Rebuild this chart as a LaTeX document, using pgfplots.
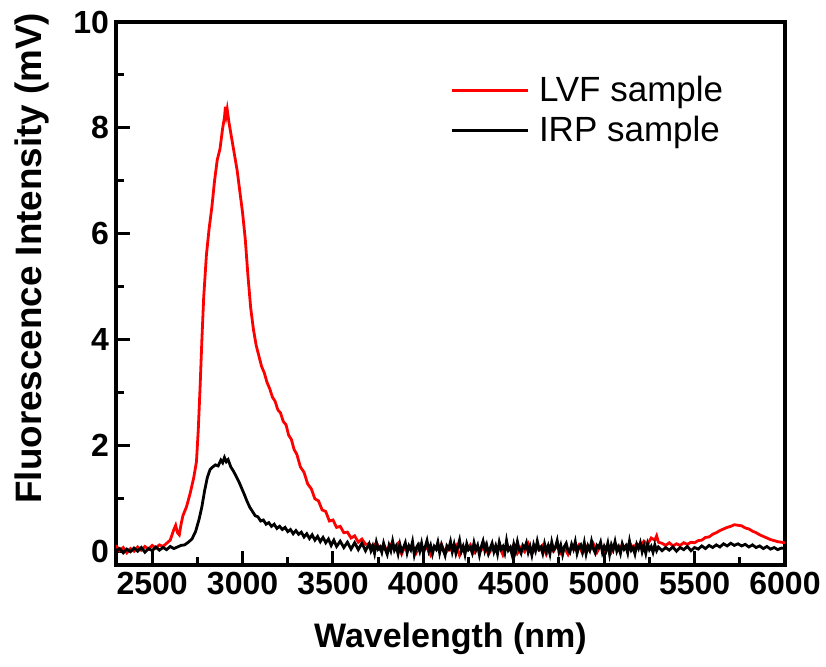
\documentclass[border=0pt]{standalone}
\usepackage{pgfplots}
\pgfplotsset{compat=1.18}
\usepackage{fontspec}
\setmainfont{Liberation Sans}
\begin{document}
\begin{tikzpicture}
\useasboundingbox (0,0) rectangle (413pt,333pt);
\begin{axis}[
  at={(58pt,50.5pt)}, anchor=south west,
  width=334.5pt, height=271.5pt, scale only axis,
  xmin=2300, xmax=6000, ymin=-0.25, ymax=10,
  xtick={2500,3000,...,6000}, minor xtick={2750,3250,...,5750},
  ytick={0,2,...,10}, minor ytick={1,3,...,9},
  tick align=inside, xtick pos=bottom, ytick pos=left,
  major tick length=7pt, minor tick length=4pt,
  every tick/.style={line width=1.5pt,black},
  axis line style={line width=2pt},
  /pgf/number format/assume math mode=true,
  /pgf/number format/1000 sep={},
  ticklabel style={font=\bfseries\fontsize{16}{16}\selectfont},
  xlabel={Wavelength (nm)}, ylabel={Fluorescence Intensity (mV)},
  xlabel style={font=\bfseries\fontsize{17}{17}\selectfont, yshift=-7pt},
  ylabel style={font=\bfseries\fontsize{18.4}{18.4}\selectfont, at={(ticklabel cs:0.565)}, yshift=5pt},
  legend style={draw=none, fill=none, at={(0.49,0.915)}, anchor=north west,
    font=\fontsize{17.5}{17.5}\selectfont, row sep=1.5pt,
    /tikz/every odd column/.append style={column sep=3pt}},
  legend cell align=left,
  legend image code/.code={\draw[#1] (0pt,0pt) -- (38pt,0pt);},
]
\addplot[red, line width=1.4pt] coordinates {
(2300,0.12)(2320,0.02)(2340,0.08)(2360,-0.02)(2380,0.06)(2400,0.01)(2420,0.09)(2440,0.03)(2460,0.10)(2480,0.05)
(2500,0.12)(2520,0.07)(2540,0.13)(2560,0.10)(2580,0.16)(2600,0.22)(2620,0.42)(2630,0.50)(2640,0.36)(2650,0.32)
(2660,0.52)(2670,0.68)(2690,0.85)(2710,1.10)(2730,1.40)(2745,1.70)(2755,2.30)(2765,3.10)(2775,4.00)(2785,4.80)
(2800,5.60)(2815,6.10)(2830,6.50)(2845,7.00)(2860,7.40)(2875,7.60)(2890,8.00)(2900,8.20)(2905,8.40)(2910,8.25)
(2915,8.35)(2925,8.10)(2940,7.80)(2955,7.50)(2970,7.20)(2985,6.80)(3000,6.40)(3015,5.90)(3030,5.20)(3045,4.60)
(3060,4.20)(3075,3.90)(3090,3.70)(3105,3.50)(3120,3.38)(3135,3.20)(3150,3.08)(3165,2.92)(3180,2.84)(3195,2.68)
(3210,2.62)(3225,2.46)(3240,2.40)(3255,2.20)(3270,2.12)(3285,1.93)(3300,1.84)(3320,1.60)(3340,1.50)(3360,1.28)
(3380,1.19)(3400,1.00)(3420,0.96)(3440,0.79)(3460,0.76)(3480,0.58)(3500,0.60)(3520,0.46)(3540,0.48)(3560,0.36)
(3580,0.37)(3600,0.26)(3620,0.30)(3640,0.18)(3660,0.24)(3680,0.14)(3700,0.15)(3720,0.08)(3740,0.17)(3760,0.05)
(3780,0.13)(3800,0.02)(3820,0.14)(3840,0.09)(3860,0.16)(3880,-0.04)(3900,0.12)(3920,0.06)(3940,0.10)(3960,-0.02)
(3980,0.13)(4000,0.03)(4020,0.08)(4040,-0.06)(4060,0.09)(4080,0.04)(4100,0.14)(4120,-0.03)(4140,0.05)(4160,0.02)
(4180,0.12)(4200,-0.07)(4220,0.10)(4240,0.03)(4260,0.13)(4280,-0.02)(4300,0.06)(4320,0.03)(4340,0.14)(4360,-0.05)
(4380,0.07)(4400,0.01)(4420,0.11)(4440,-0.06)(4460,0.10)(4480,0.04)(4500,0.13)(4520,-0.03)(4540,0.08)(4560,0.00)
(4580,0.15)(4600,-0.04)(4620,0.09)(4640,0.03)(4660,0.12)(4680,-0.05)(4700,0.10)(4720,0.01)(4740,0.14)(4760,-0.02)
(4780,0.08)(4800,-0.05)(4820,0.11)(4840,0.04)(4860,0.13)(4880,-0.03)(4900,0.10)(4920,0.02)(4940,0.15)(4960,-0.01)
(4980,0.12)(5000,0.03)(5020,0.14)(5040,0.00)(5060,0.16)(5080,0.05)(5100,0.13)(5120,0.06)(5140,0.17)(5160,0.07)
(5180,0.15)(5200,0.10)(5220,0.20)(5240,0.14)(5260,0.26)(5280,0.22)(5290,0.30)(5300,0.18)(5320,0.16)(5340,0.12)
(5360,0.17)(5380,0.11)(5400,0.15)(5420,0.12)(5440,0.17)(5460,0.14)(5480,0.18)(5500,0.17)(5520,0.21)(5540,0.22)
(5560,0.27)(5580,0.28)(5600,0.33)(5620,0.36)(5640,0.40)(5660,0.43)(5680,0.46)(5700,0.48)(5720,0.51)(5740,0.50)
(5760,0.49)(5780,0.45)(5800,0.43)(5820,0.39)(5840,0.36)(5860,0.32)(5880,0.29)(5900,0.26)(5920,0.23)(5940,0.21)
(5960,0.19)(5980,0.18)(6000,0.17)
};
\addlegendentry{LVF sample}
\addplot[black, line width=1.4pt] coordinates {
(2300,0.02)(2320,0.06)(2340,-0.02)(2360,0.05)(2380,0.00)(2400,0.07)(2420,0.01)(2440,0.08)(2460,-0.01)(2480,0.06)
(2500,0.02)(2520,0.09)(2540,0.03)(2560,0.08)(2580,0.04)(2600,0.10)(2620,0.06)(2640,0.09)(2660,0.12)(2680,0.13)
(2700,0.18)(2720,0.24)(2740,0.38)(2760,0.62)(2775,0.85)(2790,1.15)(2805,1.40)(2820,1.55)(2835,1.60)(2850,1.64)
(2865,1.62)(2880,1.73)(2890,1.68)(2900,1.78)(2910,1.70)(2920,1.74)(2935,1.60)(2950,1.52)(2965,1.42)(2980,1.32)
(2995,1.20)(3010,1.08)(3025,0.95)(3040,0.84)(3055,0.76)(3070,0.68)(3085,0.66)(3100,0.58)(3115,0.60)(3130,0.52)
(3145,0.55)(3160,0.48)(3175,0.52)(3190,0.44)(3205,0.48)(3220,0.42)(3235,0.46)(3250,0.38)(3265,0.42)(3280,0.34)
(3295,0.40)(3310,0.33)(3325,0.37)(3340,0.28)(3355,0.34)(3370,0.25)(3385,0.32)(3400,0.22)(3415,0.29)(3430,0.19)
(3445,0.27)(3460,0.17)(3475,0.24)(3490,0.12)(3505,0.22)(3520,0.10)(3540,0.20)(3560,0.08)(3580,0.18)(3600,0.05)
(3620,0.17)(3640,0.04)(3660,0.16)(3680,0.02)
(3700,0.15)(3710,0.02)(3720,0.11)(3730,-0.03)(3740,0.18)(3750,0.05)(3760,0.09)(3770,-0.01)(3780,0.16)(3790,0.04)
(3800,-0.05)(3810,0.12)(3820,0.02)(3830,0.20)(3840,0.03)(3850,0.10)(3860,-0.04)(3870,0.14)(3880,0.00)(3890,0.08)
(3900,0.17)(3910,-0.02)(3920,0.11)(3930,0.04)(3940,0.19)(3950,-0.06)(3960,0.07)(3970,0.13)(3980,0.01)(3990,0.16)
(4000,-0.03)(4010,0.09)(4020,0.21)(4030,0.02)(4040,0.12)(4050,-0.04)(4060,0.10)(4070,0.05)(4080,0.18)(4090,-0.02)
(4100,0.13)(4110,0.03)(4120,-0.07)(4130,0.11)(4140,0.06)(4150,0.19)(4160,0.00)(4170,0.14)(4180,-0.03)(4190,0.09)
(4200,0.22)(4210,0.01)(4220,0.10)(4230,-0.05)(4240,0.15)(4250,0.04)(4260,0.08)(4270,-0.02)(4280,0.17)(4290,0.03)
(4300,0.12)(4310,-0.06)(4320,0.09)(4330,0.20)(4340,0.02)(4350,0.13)(4360,-0.03)(4370,0.07)(4380,0.16)(4390,0.00)
(4400,0.11)(4410,-0.04)(4420,0.18)(4430,0.05)(4440,0.10)(4450,-0.02)(4460,0.21)(4470,0.03)(4480,0.08)(4490,-0.05)
(4500,0.14)(4510,0.01)(4520,0.19)(4530,0.04)(4540,-0.03)(4550,0.12)(4560,0.07)(4570,0.17)(4580,-0.01)(4590,0.10)
(4600,-0.06)(4610,0.13)(4620,0.02)(4630,0.20)(4640,0.05)(4650,0.09)(4660,-0.03)(4670,0.15)(4680,0.01)(4690,0.11)
(4700,-0.04)(4710,0.18)(4720,0.03)(4730,0.08)(4740,0.21)(4750,0.00)(4760,0.12)(4770,-0.05)(4780,0.10)(4790,0.16)
(4800,0.02)(4810,-0.02)(4820,0.14)(4830,0.05)(4840,0.19)(4850,-0.03)(4860,0.09)(4870,0.13)(4880,0.00)(4890,0.17)
(4900,-0.04)(4910,0.11)(4920,0.03)(4930,0.20)(4940,0.06)(4950,-0.02)(4960,0.12)(4970,0.08)(4980,0.18)(4990,-0.01)
(5000,0.10)(5010,0.02)(5020,0.16)(5030,-0.05)(5040,0.13)(5050,0.04)(5060,0.19)(5070,0.01)(5080,0.09)(5090,-0.03)
(5100,0.15)(5110,0.05)(5120,0.11)(5130,-0.02)(5140,0.20)(5150,0.03)(5160,0.08)(5170,-0.04)(5180,0.14)(5190,0.06)
(5200,0.17)(5210,0.00)(5220,0.12)(5230,-0.03)(5240,0.15)(5250,0.04)(5260,0.10)(5270,-0.01)(5280,0.13)(5290,0.02)
(5300,0.09)(5320,0.02)(5340,0.08)(5360,0.03)(5380,0.09)(5400,0.01)
(5420,0.08)(5440,0.04)(5460,0.10)(5480,0.02)(5500,0.08)(5520,0.05)(5540,0.11)(5560,0.06)(5580,0.12)(5600,0.08)
(5620,0.13)(5640,0.09)(5660,0.15)(5680,0.11)(5700,0.16)(5720,0.12)(5740,0.15)(5760,0.11)(5780,0.14)(5800,0.09)
(5820,0.13)(5840,0.08)(5860,0.11)(5880,0.06)(5900,0.10)(5920,0.05)(5940,0.08)(5960,0.04)(5980,0.07)(6000,0.06)
};
\addlegendentry{IRP sample}
\end{axis}
\end{tikzpicture}
\end{document}
